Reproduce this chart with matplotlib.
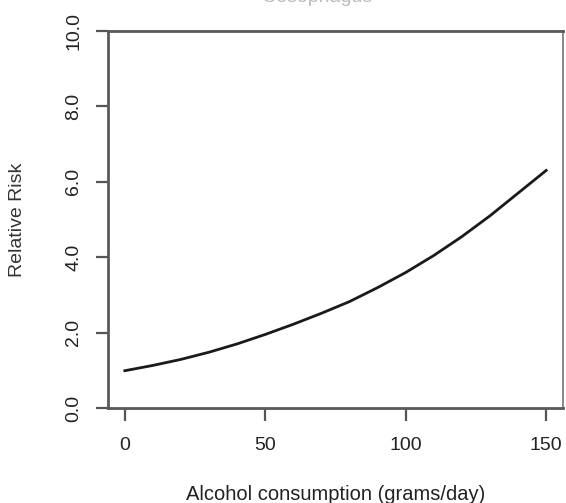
import matplotlib
matplotlib.use("Agg")
import matplotlib.pyplot as plt

plt.rcParams['font.family'] = ['Liberation Sans', 'DejaVu Sans']

# values
alcohol = [0, 10, 20, 30, 40, 50, 60, 70, 80, 90, 100, 110, 120, 130, 140, 150]
rel_risk = [1.00, 1.14, 1.30, 1.49, 1.71, 1.96, 2.23, 2.52, 2.83, 3.20,
            3.60, 4.05, 4.55, 5.10, 5.70, 6.30]
x_ticks = [0, 50, 100, 150]
y_ticks = [0, 2, 4, 6, 8, 10]
y_labels = ['0.0', '2.0', '4.0', '6.0', '8.0', '10.0']

fig = plt.figure(figsize=(5.66, 5.03), dpi=100)
ax = fig.add_axes([0.1908, 0.1879, 0.8039, 0.7511])

ax.plot(alcohol, rel_risk, color='#1a1a1a', lw=2.0)
ax.set_xlim(-6, 156)
ax.set_ylim(0, 10)

ax.set_xticks(x_ticks)
ax.set_xticklabels([str(v) for v in x_ticks])
ax.set_yticks(y_ticks)
ax.set_yticklabels(y_labels, rotation=90, va='center')

ax.tick_params(axis='x', length=9.5, width=1.6, color='#555555', pad=11,
               labelsize=14, labelcolor='#222222')
ax.tick_params(axis='y', length=8.6, width=1.6, color='#555555', pad=10,
               labelsize=14, labelcolor='#222222')

for side in ['left', 'bottom', 'top']:
    ax.spines[side].set_color('#5a5a5a')
    ax.spines[side].set_linewidth(2.0)
ax.spines['right'].set_color('#888888')
ax.spines['right'].set_linewidth(1.4)

ax.set_xlabel('Alcohol consumption (grams/day)', fontsize=14.5,
              color='#222222', labelpad=22)
ax.set_ylabel('Relative Risk', fontsize=14, color='#333333', labelpad=28)

# title mostly clipped by the top edge, as in the reference
fig.text(0.56, 1 - 2 / 503, 'Oesophagus', ha='center', va='baseline',
         fontsize=14, color='#bbbbbb')

fig.savefig('out.png', dpi=100)
